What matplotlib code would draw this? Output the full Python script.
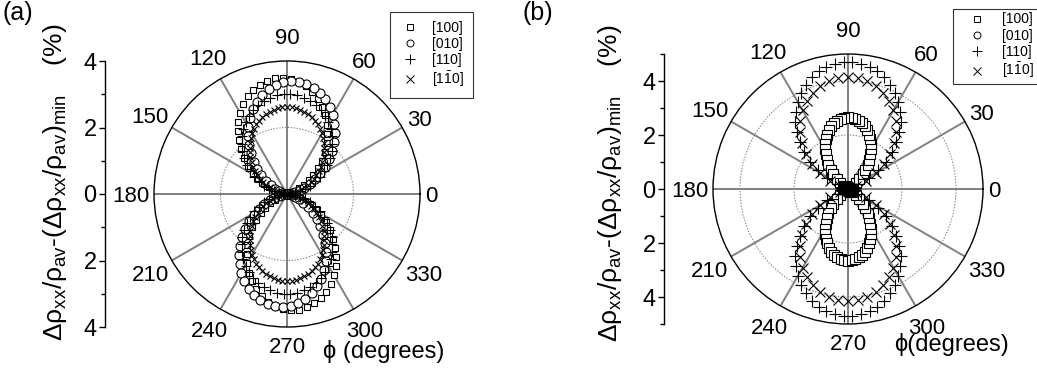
import numpy as np
import matplotlib
matplotlib.use('Agg')
import matplotlib.pyplot as plt
from matplotlib.lines import Line2D
from matplotlib.ticker import FuncFormatter

plt.rcParams['font.family'] = ['Liberation Sans', 'DejaVu Sans']
plt.rcParams['mathtext.fontset'] = 'custom'
plt.rcParams['mathtext.rm'] = 'Liberation Sans'
plt.rcParams['mathtext.it'] = 'Liberation Sans'
plt.rcParams['mathtext.bf'] = 'Liberation Sans:bold'

# field angle (deg) for each measurement set; the half-turn repeats (180 deg period)
ang_3 = np.arange(0, 360, 3)
ang_4 = np.arange(0, 360, 4)
ang_5 = np.arange(0, 360, 5)

# (a) AMR in % over 0..180 deg
a_100 = [0.02, 0.00, 0.02, 0.07, 0.15, 0.27, 0.41, 0.58, 0.77, 0.98, 1.21, 1.45, 1.69, 1.93, 2.17,
         2.41, 2.63, 2.83, 3.01, 3.17, 3.30, 3.39, 3.46, 3.50, 3.50, 3.46, 3.39, 3.30, 3.17, 3.01,
         2.83, 2.63, 2.41, 2.17, 1.93, 1.69, 1.45, 1.21, 0.98, 0.77, 0.58, 0.41, 0.27, 0.15, 0.07]
a_010 = [0.02, 0.07, 0.15, 0.26, 0.40, 0.56, 0.75, 0.95, 1.17, 1.40, 1.64, 1.88, 2.11, 2.34, 2.55,
         2.75, 2.92, 3.08, 3.20, 3.30, 3.36, 3.40, 3.40, 3.36, 3.30, 3.20, 3.08, 2.92, 2.75, 2.55,
         2.34, 2.11, 1.88, 1.64, 1.40, 1.17, 0.95, 0.75, 0.56, 0.40, 0.26, 0.15, 0.07, 0.02, 0.00]
a_110 = [0.00, 0.09, 0.23, 0.39, 0.56, 0.74, 0.93, 1.12, 1.31, 1.50, 1.69, 1.87, 2.04, 2.20, 2.35,
         2.49, 2.61, 2.72, 2.81, 2.88, 2.94, 2.98, 3.00, 3.00, 2.98, 2.94, 2.88, 2.81, 2.72, 2.61,
         2.49, 2.35, 2.20, 2.04, 1.87, 1.69, 1.50, 1.31, 1.12, 0.93, 0.74, 0.56, 0.39, 0.23, 0.09]
a_1m10 = [0.00, 0.03, 0.09, 0.16, 0.25, 0.35, 0.45, 0.56, 0.68, 0.80, 0.93, 1.05, 1.18, 1.31, 1.43,
          1.56, 1.68, 1.79, 1.91, 2.01, 2.11, 2.20, 2.29, 2.36, 2.43, 2.49, 2.53, 2.57, 2.60, 2.61,
          2.62, 2.61, 2.60, 2.57, 2.53, 2.49, 2.43, 2.36, 2.29, 2.20, 2.11, 2.01, 1.91, 1.79, 1.68,
          1.56, 1.43, 1.31, 1.18, 1.05, 0.93, 0.80, 0.68, 0.56, 0.45, 0.35, 0.25, 0.16, 0.09, 0.03]

# (b)
b_100 = [0.03, 0.03, 0.04, 0.04, 0.05, 0.05, 0.06, 0.07, 0.08, 0.09, 0.10, 0.12, 0.17, 0.36, 0.56,
         0.76, 0.96, 1.15, 1.34, 1.53, 1.70, 1.87, 2.02, 2.16, 2.29, 2.40, 2.49, 2.56, 2.61, 2.64,
         2.65, 2.64, 2.61, 2.56, 2.49, 2.40, 2.29, 2.16, 2.02, 1.87, 1.70, 1.53, 1.34, 1.15, 0.96,
         0.76, 0.56, 0.36, 0.17, 0.12, 0.10, 0.09, 0.08, 0.07, 0.06, 0.05, 0.05, 0.04, 0.04, 0.03]
b_010 = [0.03, 0.03, 0.04, 0.04, 0.05, 0.05, 0.06, 0.07, 0.08, 0.09, 0.10, 0.11, 0.17, 0.35, 0.55,
         0.74, 0.94, 1.13, 1.31, 1.50, 1.67, 1.83, 1.98, 2.12, 2.24, 2.35, 2.44, 2.51, 2.56, 2.59,
         2.60, 2.59, 2.56, 2.51, 2.44, 2.35, 2.24, 2.12, 1.98, 1.83, 1.67, 1.50, 1.31, 1.13, 0.94,
         0.74, 0.55, 0.35, 0.17, 0.11, 0.10, 0.09, 0.08, 0.07, 0.06, 0.05, 0.05, 0.04, 0.04, 0.03]
b_110 = [0.05, 0.07, 0.10, 0.13, 0.16, 0.22, 0.41, 0.86, 1.30, 1.72, 2.12, 2.49, 2.84, 3.17, 3.46,
         3.73, 3.97, 4.17, 4.35, 4.49, 4.59, 4.66, 4.70, 4.70, 4.66, 4.59, 4.49, 4.35, 4.17, 3.97,
         3.73, 3.46, 3.17, 2.84, 2.49, 2.12, 1.72, 1.30, 0.86, 0.41, 0.22, 0.16, 0.13, 0.10, 0.07]
b_1m10 = [0.05, 0.08, 0.12, 0.18, 0.30, 0.73, 1.19, 1.62, 2.03, 2.41, 2.76, 3.08, 3.36, 3.59, 3.79,
          3.95, 4.06, 4.13, 4.15, 4.13, 4.06, 3.95, 3.79, 3.59, 3.36, 3.08, 2.76, 2.41, 2.03, 1.62,
          1.19, 0.73, 0.30, 0.18, 0.12, 0.08]

labels = ['[100]', '[010]', '[110]', r'[1$\bar{1}$0]']
ylabel = 'Δρ$_{\\rm xx}$/ρ$_{\\rm av}$-(Δρ$_{\\rm xx}$/ρ$_{\\rm av}$)$_{\\rm min}$    (%)'

W, H = 1037, 377
fig = plt.figure(figsize=(W / 100, H / 100), dpi=100)


def px_rect(left, top, width, height):
    return [left / W, 1 - (top + height) / H, width / W, height / H]


def polar_panel(rect, rmax, rgrid):
    ax = fig.add_axes(rect, projection='polar')
    ax.set_ylim(0, rmax)
    ax.set_yticks(rgrid)
    ax.set_yticklabels([])
    ax.set_xticks(np.radians(np.arange(0, 360, 30)))
    ax.set_xticklabels([])
    ax.set_xticks(np.radians(np.arange(15, 360, 30)), minor=True)
    ax.tick_params(axis='x', which='major', length=0)
    ax.tick_params(axis='x', which='minor', direction='in', length=4, width=0.8)
    ax.tick_params(axis='y', length=0)
    ax.xaxis.grid(True, which='major', color='#808080', lw=1.4, ls='-')
    ax.yaxis.grid(True, color='#808080', lw=0.7, ls=(0, (1.5, 1.5)))
    ax.spines['polar'].set_linewidth(1.0)
    ax.set_axisbelow(True)
    # angle labels sit just outside the rim, pushed out by their own size
    fs = 16
    for deg in range(0, 360, 30):
        th = np.radians(deg)
        c, s = np.cos(th), np.sin(th)
        w = 0.278 * fs * len(str(deg))
        h = 0.358 * fs
        gap = 3.5 + 8.5 * max(s, 0) ** 8 + 4 * max(-s, 0) ** 8
        d = gap + w * abs(c) + h * abs(s)
        ax.annotate(str(deg), xy=(th, rmax), xytext=(d * c, d * s - h),
                    textcoords='offset points', ha='center', va='baseline',
                    fontsize=fs, annotation_clip=False)
    return ax


def side_axis(rect, lim, major, minor):
    sa = fig.add_axes(rect)
    sa.set_ylim(-lim, lim)
    sa.patch.set_visible(False)
    for k in ['top', 'right', 'bottom']:
        sa.spines[k].set_visible(False)
    sa.spines['left'].set_linewidth(1.0)
    sa.set_xticks([])
    sa.set_yticks(major)
    sa.set_yticks(minor, minor=True)
    sa.yaxis.set_major_formatter(FuncFormatter(lambda v, p: f'{abs(v):g}'))
    sa.tick_params(axis='y', which='major', length=4, width=1, labelsize=17, pad=2)
    sa.tick_params(axis='y', which='minor', length=3, width=1)
    return sa


def add_legend(x, y, pad, hlen, htp):
    handles = [
        Line2D([], [], ls='none', marker='s', ms=4.5, mfc='white', mec='k', mew=0.7),
        Line2D([], [], ls='none', marker='o', ms=5, mfc='white', mec='k', mew=0.7),
        Line2D([], [], ls='none', marker='+', ms=7, mec='k', mew=0.7),
        Line2D([], [], ls='none', marker='x', ms=6, mec='k', mew=0.7),
    ]
    leg = fig.legend(handles, labels, loc='upper left', bbox_to_anchor=(x / W, 1 - y / H),
                     frameon=True, fancybox=False, edgecolor='black', fontsize=10,
                     handlelength=hlen, handletextpad=htp, borderpad=pad,
                     labelspacing=0.15, borderaxespad=0)
    leg.get_frame().set_linewidth(0.8)


def pts(ax, ang, half, marker, ms):
    r = np.tile(half, 2)
    ax.plot(np.radians(ang), r, ls='none', marker=marker, ms=ms, mfc='white',
            mec='black', mew=0.8, clip_on=False)


# ---- (a) ----
axa = polar_panel(px_rect(154, 61, 266, 266), 4, [2])
side_axis(px_rect(105, 61, 1, 266), 4, [-4, -2, 0, 2, 4], [-3, -1, 1, 3])
pts(axa, ang_4, a_100, 's', 5)
pts(axa, ang_4, a_010, 'o', 6.5)
pts(axa, ang_4, a_110, '+', 7)
pts(axa, ang_3, a_1m10, 'x', 5)
add_legend(390, 12, 0.65, 1.6, 0.8)
fig.text(55 / W, 1 - 182 / H, ylabel, rotation=90, ha='center', va='center', fontsize=19)
fig.text(323 / W, 1 - 358 / H, 'ϕ (degrees)', ha='left', va='baseline', fontsize=17)
fig.text(3 / W, 1 - 13 / H, '(a)', ha='left', va='center', fontsize=18)

# ---- (b) ----
axb = polar_panel(px_rect(713, 54, 270, 270), 5, [2, 4])
side_axis(px_rect(664, 54, 1, 270), 5, [-4, -2, 0, 2, 4], [-5, -3, -1, 1, 3, 5])
pts(axb, ang_3, b_010, 'o', 5.5)
pts(axb, ang_3, b_100, 's', 7)
pts(axb, ang_4, b_110, '+', 8)
pts(axb, ang_5, b_1m10, 'x', 7)
add_legend(953, 9, 0.25, 3.0, 0.3)
fig.text(610 / W, 1 - 183 / H, ylabel, rotation=90, ha='center', va='center', fontsize=19)
fig.text(894 / W, 1 - 351 / H, 'ϕ(degrees)', ha='left', va='baseline', fontsize=17)
fig.text(523 / W, 1 - 13 / H, '(b)', ha='left', va='center', fontsize=18)

fig.savefig('out.png', dpi=100)
